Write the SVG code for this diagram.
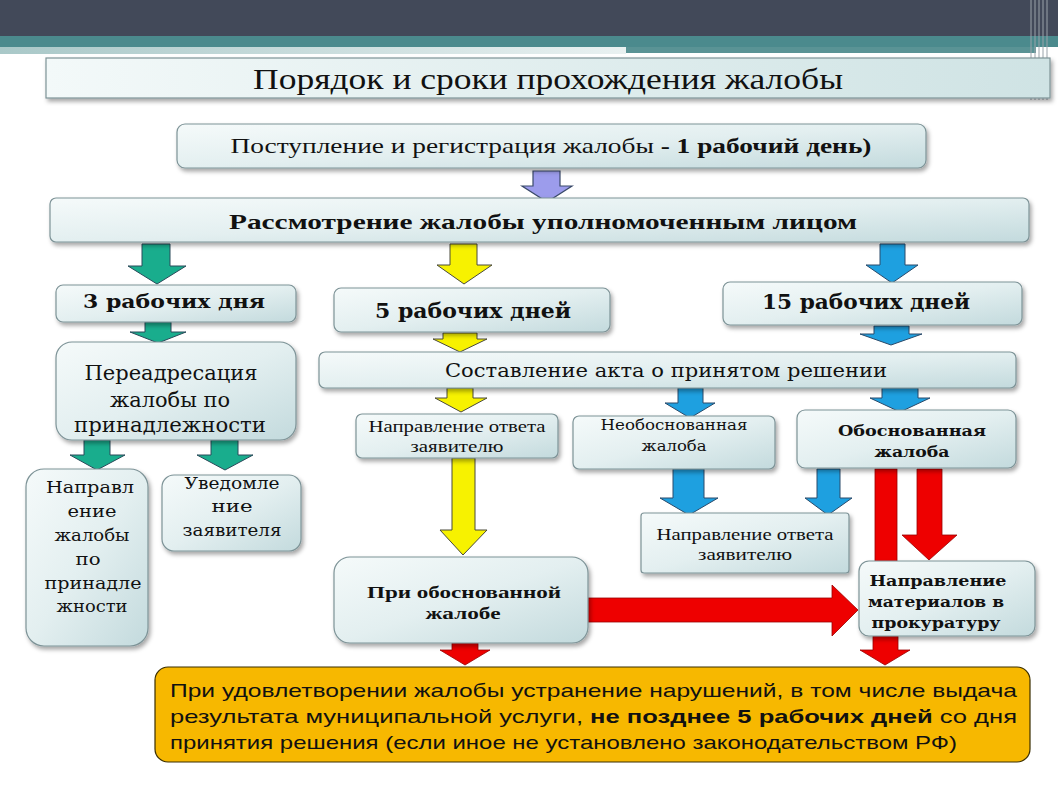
<svg xmlns="http://www.w3.org/2000/svg" width="1058" height="793" viewBox="0 0 1058 793">
<defs>
<linearGradient id="boxg" x1="0" y1="0" x2="1" y2="1">
<stop offset="0" stop-color="#f5fafa"/>
<stop offset="0.5" stop-color="#e3eff0"/>
<stop offset="1" stop-color="#c3dadd"/>
</linearGradient>
<linearGradient id="titleg" x1="0" y1="0" x2="1" y2="0">
<stop offset="0" stop-color="#f3f9f9"/>
<stop offset="1" stop-color="#cfe3e4"/>
</linearGradient>
<linearGradient id="bandg" x1="0" y1="0" x2="1" y2="0">
<stop offset="0" stop-color="#a9c8c8"/>
<stop offset="1" stop-color="#e9f1f1"/>
</linearGradient>
<filter id="sh" x="-10%" y="-10%" width="120%" height="130%">
<feDropShadow dx="2" dy="3" stdDeviation="2" flood-color="#000" flood-opacity="0.35"/>
</filter>
</defs>
<style>
.box{fill:url(#boxg);stroke:#7d9397;stroke-width:1.2;filter:url(#sh)}
.t{font-family:"DejaVu Serif","Liberation Serif",serif;fill:#111;text-anchor:middle}
.c{font-family:"Liberation Serif","DejaVu Serif",serif;fill:#111;text-anchor:middle}
.b{font-weight:bold}
.green{fill:#19ad8d;stroke:#2a4a5a;stroke-width:1}
.yellow{fill:#f7f200;stroke:#4a4a3a;stroke-width:1}
.blue{fill:#1ea0e0;stroke:#2a4a6a;stroke-width:1}
.red{fill:#ee0000;stroke:#990000;stroke-width:0.8}
.purple{fill:#9c9cec;stroke:#3a4a6a;stroke-width:1.2}
.s{font-family:"Liberation Sans",Arial,sans-serif;font-size:19px;fill:#111}
</style>
<rect width="1058" height="793" fill="#ffffff"/>
<g id="header">
<rect x="0" y="0" width="1058" height="36" fill="#424959"/>
<rect x="0" y="36" width="1058" height="11" fill="#4b8a8d"/>
<rect x="0" y="47" width="626" height="7" fill="url(#bandg)"/>
<rect x="626" y="47" width="410" height="6" fill="#5a9395"/>
<g stroke="#9aa3aa" stroke-width="1">
<line x1="1031" y1="0" x2="1031" y2="100"/>
<line x1="1035" y1="0" x2="1035" y2="100"/>
<line x1="1039" y1="0" x2="1039" y2="100"/>
<line x1="1043" y1="0" x2="1043" y2="100"/>
<line x1="1047" y1="0" x2="1047" y2="100"/>
</g>
</g>
<g id="title">
<rect x="46" y="58" width="1004" height="40" fill="url(#titleg)" stroke="#7d9397" stroke-width="1.2" filter="url(#sh)"/>
<text class="c" x="548" y="89" font-size="30" textLength="590" lengthAdjust="spacingAndGlyphs">Порядок и сроки прохождения жалобы</text>
</g>
<g id="connectors">
<path class="purple" d="M533,171 H560 V186 H572 L547,202 L522,186 H533 Z"/>
<path class="green" d="M142,244 H170 V266 H186 L157,284 L128,266 H142 Z"/>
<path class="green" d="M145,322 H171 V332 H186 L158,343 L130,332 H145 Z"/>
<path class="green" d="M84,440 H110 V455 H125 L97,470 L70,455 H84 Z"/>
<path class="green" d="M211,440 H238 V455 H253 L225,470 L197,455 H211 Z"/>
<path class="yellow" d="M450,244 H477 V265 H492 L464,284 L437,265 H450 Z"/>
<path class="yellow" d="M443,333 H477 V339 H487 L460,352 L433,339 H443 Z"/>
<path class="yellow" d="M447,388 H473 V398 H487 L461,412 L435,398 H447 Z"/>
<path class="yellow" d="M452,458 H475 V530 H487 L463,555 L440,530 H452 Z"/>
<path class="blue" d="M880,244 H905 V265 H918 L892,283 L866,265 H880 Z"/>
<path class="blue" d="M874,326 H909 V334 H922 L891,345 L860,334 H874 Z"/>
<path class="blue" d="M882,388 H918 V398 H930 L900,412 L870,398 H882 Z"/>
<path class="blue" d="M678,388 H703 V403 H715 L690,418 L665,403 H678 Z"/>
<path class="blue" d="M673,469 H704 V498 H718 L689,515 L660,498 H673 Z"/>
<path class="blue" d="M817,469 H840 V498 H852 L828,515 L805,498 H817 Z"/>
<rect class="red" x="875" y="469" width="22" height="93"/>
<path class="red" d="M917,469 H942 V535 H957 L929,560 L902,535 H917 Z"/>
<path class="red" d="M873,636 H898 V650 H910 L885,665 L860,650 H873 Z"/>
<path class="red" d="M452,643 H478 V650 H490 L465,665 L440,650 H452 Z"/>
<path class="red" d="M588,598 H832 V585 L858,610 L832,636 V622 H588 Z"/>
</g>
<g id="n-receipt">
<rect class="box" x="177" y="124" width="749" height="44" rx="8"/>
<text class="c" x="551" y="153" font-size="21" textLength="641" lengthAdjust="spacingAndGlyphs">Поступление и регистрация жалобы  <tspan class="b">- 1 рабочий день)</tspan></text>
</g>
<g id="n-review">
<rect class="box" x="50" y="198" width="979" height="44" rx="6"/>
<text class="c b" x="543" y="229" font-size="22" textLength="628" lengthAdjust="spacingAndGlyphs">Рассмотрение жалобы  уполномоченным лицом</text>
</g>
<g id="n-3days">
<rect class="box" x="56" y="285" width="240" height="37" rx="7"/>
<text class="t b" x="174" y="308" font-size="19" textLength="182" lengthAdjust="spacingAndGlyphs">3 рабочих дня</text>
</g>
<g id="n-5days">
<rect class="box" x="334" y="288" width="276" height="44" rx="7"/>
<text class="t b" x="473" y="318" font-size="20" textLength="196" lengthAdjust="spacingAndGlyphs">5 рабочих дней</text>
</g>
<g id="n-15days">
<rect class="box" x="723" y="282" width="299" height="43" rx="7"/>
<text class="t b" x="866" y="309" font-size="20" textLength="208" lengthAdjust="spacingAndGlyphs">15 рабочих дней</text>
</g>
<g id="n-readdress">
<rect class="box" x="56" y="342" width="240" height="98" rx="16"/>
<text class="t" x="171" y="380" font-size="20" textLength="173" lengthAdjust="spacingAndGlyphs">Переадресация</text>
<text class="t" x="170" y="407" font-size="20" textLength="120" lengthAdjust="spacingAndGlyphs">жалобы по</text>
<text class="t" x="170" y="432" font-size="20" textLength="192" lengthAdjust="spacingAndGlyphs">принадлежности</text>
</g>
<g id="n-act">
<rect class="box" x="319" y="352" width="697" height="36" rx="6"/>
<text class="t" x="666" y="377" font-size="19" textLength="442" lengthAdjust="spacingAndGlyphs">Составление акта о принятом решении</text>
</g>
<g id="n-answer1">
<rect class="box" x="356" y="414" width="202" height="44" rx="6"/>
<text class="c" x="457" y="432" font-size="16" textLength="177" lengthAdjust="spacingAndGlyphs">Направление ответа</text>
<text class="c" x="457" y="452" font-size="16" textLength="93" lengthAdjust="spacingAndGlyphs">заявителю</text>
</g>
<g id="n-unfounded">
<rect class="box" x="573" y="416" width="202" height="53" rx="6"/>
<text class="t" x="674" y="430" font-size="14" textLength="147" lengthAdjust="spacingAndGlyphs">Необоснованная</text>
<text class="t" x="674" y="451" font-size="14" textLength="65" lengthAdjust="spacingAndGlyphs">жалоба</text>
</g>
<g id="n-founded">
<rect class="box" x="797" y="410" width="219" height="58" rx="8"/>
<text class="t b" x="912" y="436" font-size="14" textLength="148" lengthAdjust="spacingAndGlyphs">Обоснованная</text>
<text class="t b" x="912" y="457" font-size="14" textLength="75" lengthAdjust="spacingAndGlyphs">жалоба</text>
</g>
<g id="n-redirect">
<rect class="box" x="26" y="469" width="122" height="177" rx="18"/>
<text class="t" x="90" y="493" font-size="17" textLength="88" lengthAdjust="spacingAndGlyphs">Направл</text>
<text class="t" x="92" y="517" font-size="17" textLength="49" lengthAdjust="spacingAndGlyphs">ение</text>
<text class="t" x="92" y="541" font-size="17" textLength="75" lengthAdjust="spacingAndGlyphs">жалобы</text>
<text class="t" x="88" y="565" font-size="17" textLength="25" lengthAdjust="spacingAndGlyphs">по</text>
<text class="t" x="93" y="589" font-size="17" textLength="97" lengthAdjust="spacingAndGlyphs">принадле</text>
<text class="t" x="92" y="612" font-size="17" textLength="71" lengthAdjust="spacingAndGlyphs">жности</text>
</g>
<g id="n-notify">
<rect class="box" x="162" y="475" width="139" height="76" rx="12"/>
<text class="t" x="232" y="489" font-size="16" textLength="95" lengthAdjust="spacingAndGlyphs">Уведомле</text>
<text class="t" x="232" y="512" font-size="16" textLength="41" lengthAdjust="spacingAndGlyphs">ние</text>
<text class="t" x="232" y="536" font-size="16" textLength="99" lengthAdjust="spacingAndGlyphs">заявителя</text>
</g>
<g id="n-answer2">
<rect class="box" x="641" y="513" width="208" height="60" rx="3"/>
<text class="c" x="745" y="540" font-size="16" textLength="177" lengthAdjust="spacingAndGlyphs">Направление ответа</text>
<text class="c" x="745" y="560" font-size="16" textLength="94" lengthAdjust="spacingAndGlyphs">заявителю</text>
</g>
<g id="n-whenfounded">
<rect class="box" x="334" y="557" width="254" height="86" rx="16"/>
<text class="c b" x="464" y="598" font-size="17" textLength="194" lengthAdjust="spacingAndGlyphs">При обоснованной</text>
<text class="c b" x="463" y="619" font-size="17" textLength="75" lengthAdjust="spacingAndGlyphs">жалобе</text>
</g>
<g id="n-prosecutor">
<rect class="box" x="859" y="561" width="176" height="75" rx="10"/>
<text class="t b" x="938" y="586" font-size="15" textLength="137" lengthAdjust="spacingAndGlyphs">Направление</text>
<text class="t b" x="936" y="607" font-size="15" textLength="136" lengthAdjust="spacingAndGlyphs">материалов в</text>
<text class="t b" x="936" y="628" font-size="15" textLength="129" lengthAdjust="spacingAndGlyphs">прокуратуру</text>
</g>
<g id="n-result">
<rect x="155" y="667" width="875" height="95" rx="13" fill="#f7b800" stroke="#3a2e00" stroke-width="1.2"/>
<text class="s" x="170" y="697" textLength="847" lengthAdjust="spacingAndGlyphs">При удовлетворении жалобы  устранение нарушений, в том числе выдача</text>
<text class="s" x="170" y="723" textLength="847" lengthAdjust="spacingAndGlyphs">результата муниципальной услуги, <tspan font-weight="bold">не позднее 5 рабочих дней</tspan> со дня</text>
<text class="s" x="170" y="749" textLength="787" lengthAdjust="spacingAndGlyphs">принятия решения (если иное не установлено законодательством РФ)</text>
</g>
</svg>
